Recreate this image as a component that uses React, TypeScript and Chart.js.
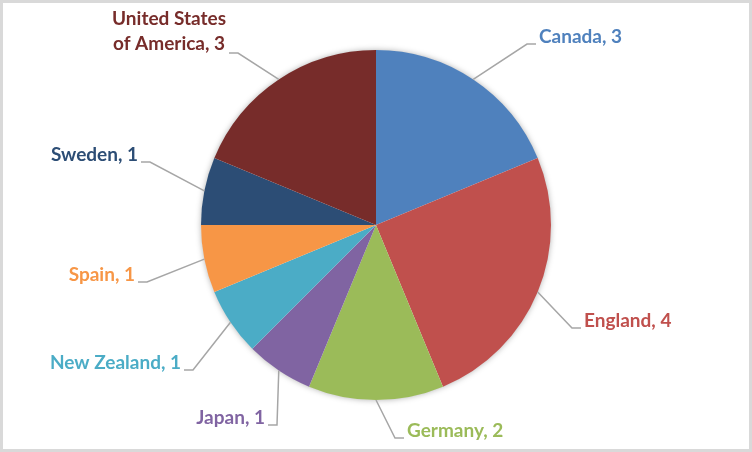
import { useEffect, useRef } from "react";
import { Chart, registerables } from "chart.js";
Chart.register(...registerables);

const categories = ["Canada", "England", "Germany", "Japan", "New Zealand", "Spain", "Sweden", "United States of America"];
const values = [3, 4, 2, 1, 1, 1, 1, 3];
const colors = ["#4F81BD", "#C0504D", "#9BBB59", "#8064A2", "#4BACC6", "#F79646", "#2C4D75", "#772C2A"];
const labelText = ["Canada, 3", "England, 4", "Germany, 2", "Japan, 1", "New Zealand, 1", "Spain, 1", "Sweden, 1", "United States\nof America, 3"];

// label layout: elbow point of leader line, side (1 right, -1 left), baseline offset
const labelLayout = [
  { ex: 527, ey: 44, side: 1, dy: -1 },
  { ex: 572, ey: 328, side: 1, dy: -1 },
  { ex: 395, ey: 438, side: 1, dy: -1 },
  { ex: 277, ey: 425, side: -1, dy: -1 },
  { ex: 193, ey: 370, side: -1, dy: -1 },
  { ex: 147, ey: 282, side: -1, dy: -1 },
  { ex: 150, ey: 162, side: -1, dy: -1 },
  { ex: 238, ey: 53, side: -1, dy: -3 },
];

const FONT = "bold 19px Lato, 'Open Sans', sans-serif";

const bgPlugin = {
  id: "bg",
  beforeDraw(chart: any) {
    const { ctx, width, height } = chart;
    ctx.save();
    ctx.fillStyle = "#ffffff";
    ctx.fillRect(0, 0, width, height);
    ctx.strokeStyle = "#D9D9D9";
    ctx.lineWidth = 3;
    ctx.strokeRect(1.5, 1.5, width - 3, height - 3);
    ctx.restore();
  },
  beforeDatasetsDraw(chart: any) {
    const arc = chart.getDatasetMeta(0).data[0];
    if (!arc) return;
    const { ctx } = chart;
    ctx.save();
    ctx.shadowColor = "rgba(0,0,0,0.35)";
    ctx.shadowBlur = 6;
    ctx.fillStyle = "#ffffff";
    ctx.beginPath();
    ctx.arc(arc.x, arc.y, arc.outerRadius - 0.5, 0, Math.PI * 2);
    ctx.fill();
    ctx.restore();
  },
};

const labelPlugin = {
  id: "pieLabels",
  afterDatasetsDraw(chart: any) {
    const { ctx } = chart;
    const meta = chart.getDatasetMeta(0);
    ctx.save();
    ctx.font = FONT;
    meta.data.forEach((arc: any, i: number) => {
      const lay = labelLayout[i];
      const mid = (arc.startAngle + arc.endAngle) / 2;
      const sx = arc.x + Math.cos(mid) * arc.outerRadius;
      const sy = arc.y + Math.sin(mid) * arc.outerRadius;
      const hx = lay.ex + lay.side * 9;
      ctx.strokeStyle = "#A6A6A6";
      ctx.lineWidth = 1.5;
      ctx.beginPath();
      ctx.moveTo(sx, sy);
      ctx.lineTo(lay.ex, lay.ey);
      ctx.lineTo(hx, lay.ey);
      ctx.stroke();
      const lines = labelText[i].split("\n");
      ctx.fillStyle = colors[i];
      ctx.textBaseline = "alphabetic";
      const tx = hx + lay.side * 3;
      const lineH = 25;
      const baseY = lay.ey + lay.dy;
      if (lines.length === 1) {
        ctx.textAlign = lay.side > 0 ? "left" : "right";
        ctx.fillText(lines[0], tx, baseY);
      } else {
        const maxW = Math.max(...lines.map((l) => ctx.measureText(l).width));
        const cx = lay.side > 0 ? tx + maxW / 2 : tx - maxW / 2;
        ctx.textAlign = "center";
        lines.forEach((l, k) => {
          ctx.fillText(l, cx, baseY - (lines.length - 1 - k) * lineH);
        });
      }
    });
    ctx.restore();
  },
};

export default function App() {
  const ref = useRef<HTMLCanvasElement>(null);
  useEffect(() => {
    document.body.style.margin = "0";
    const chart = new Chart(ref.current!, {
      type: "pie",
      data: {
        labels: categories,
        datasets: [
          {
            data: values,
            backgroundColor: colors,
            borderWidth: 0,
          },
        ],
      },
      options: {
        animation: false,
        responsive: false,
        events: [],
        layout: { padding: { top: 50, bottom: 52, left: 201, right: 201 } },
        plugins: {
          legend: { display: false },
          tooltip: { enabled: false },
        },
      },
      plugins: [bgPlugin, labelPlugin],
    });
    return () => chart.destroy();
  }, []);
  return (
    <div style={{ width: 752, height: 452 }}>
      <canvas ref={ref} width={752} height={452} style={{ display: "block" }} />
    </div>
  );
}
